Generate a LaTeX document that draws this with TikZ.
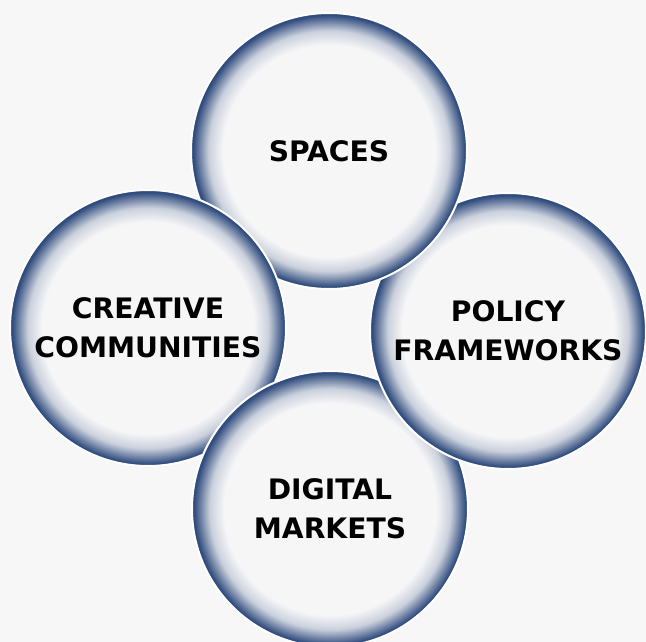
\documentclass[tikz,border=0pt]{standalone}
\usepackage{fontspec}
\setmainfont{DejaVu Sans}
\usepackage{xcolor}
\usepackage{tikz}
\usetikzlibrary{positioning}
\definecolor{ringblue}{RGB}{48,76,126}
\definecolor{paper}{RGB}{247,247,247}
\definecolor{core}{RGB}{246,246,247}
\colorlet{ringsoft}{ringblue!22!core}
\colorlet{ringmid}{ringblue!72!core}
\pgfdeclareradialshading{rimshade}{\pgfpoint{0bp}{0bp}}{color(0bp)=(core); color(19.2bp)=(core); color(21.8bp)=(ringsoft); color(23.6bp)=(ringmid); color(24.6bp)=(ringblue); color(50bp)=(ringblue)}
\tikzset{
    base/.style={font=\bfseries\fontsize{28.2}{39}\selectfont, align=center, text=black},
    ball/.style={base, circle, minimum size=276pt, inner sep=0pt, shade, shading=rimshade, draw=white, line width=2pt}
}

\begin{document}
\begin{tikzpicture}[x=1pt, y=-1pt]
    \useasboundingbox (0,0) rectangle (646,642);
    \clip (0,0) rectangle (646,642);
    \fill [paper] (0,0) rectangle (646,642);

    \node [ball] (Communities) at (148,328) {CREATIVE\\COMMUNITIES};
    \node [ball] (Markets) at (330,509) {DIGITAL\\MARKETS};
    \node [ball] (Policy) at (508,331) {POLICY\\FRAMEWORKS};
    \node [ball] (Spaces) at (329,151) {SPACES};

    % left circle lies over the top one
    \begin{scope}
        \clip (Spaces.center) circle (140);
        \node [ball] (CommunitiesOver) at (Communities.center) {};
    \end{scope}
\end{tikzpicture}
\end{document}
